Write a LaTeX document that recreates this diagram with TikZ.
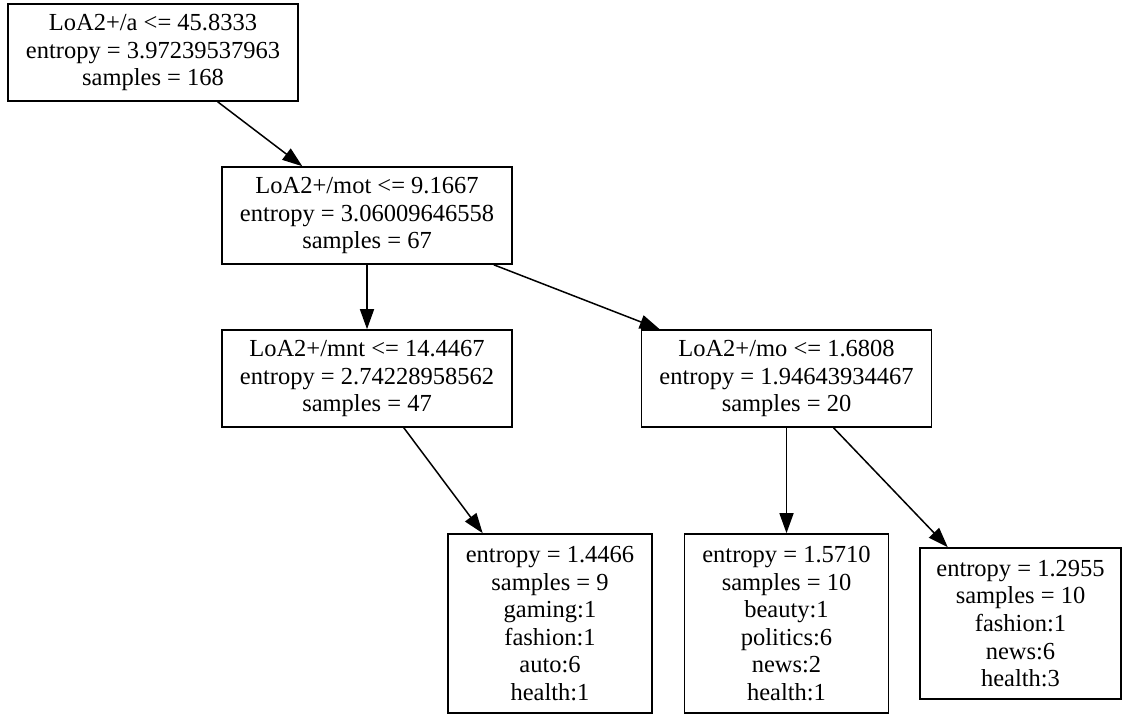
\documentclass[tikz,border=0pt]{standalone}
\usepackage{fontspec}
\setmainfont{Liberation Serif}
\usetikzlibrary{arrows.meta}
\tikzset{
  box/.style={draw=black, line width=1.6pt, rectangle, inner sep=0pt, align=center,
    font=\fontsize{24.5}{27.6}\selectfont},
  dec/.style={box, minimum width=290pt, minimum height=97pt},
  leafbox/.style={box, minimum width=204pt, minimum height=179pt},
  conn/.style={line width=1.5pt, -{Triangle[length=20pt,width=14pt]}, shorten >=0pt}
}
\begin{document}
\begin{tikzpicture}[x=1pt,y=-1pt]
\useasboundingbox[fill=white] (0,0) rectangle (1126,715);
\node[dec] (root) at (153,52.5) {LoA2+/a <= 45.8333\\entropy = 3.97239537963\\samples = 168};
\node[dec] (n2) at (367,215.5) {LoA2+/mot <= 9.1667\\entropy = 3.06009646558\\samples = 67};
\node[dec] (n3) at (367,378.5) {LoA2+/mnt <= 14.4467\\entropy = 2.74228958562\\samples = 47};
\node[dec] (n4) at (786.5,378.5) {LoA2+/mo <= 1.6808\\entropy = 1.94643934467\\samples = 20};
\node[leafbox] (l1) at (550,623.5) {entropy = 1.4466\\samples = 9\\gaming:1\\fashion:1\\auto:6\\health:1};
\node[leafbox] (l2) at (786.5,623.5) {entropy = 1.5710\\samples = 10\\beauty:1\\politics:6\\news:2\\health:1};
\node[leafbox, minimum width=201pt, minimum height=151pt] (l3) at (1020.5,623.5) {entropy = 1.2955\\samples = 10\\fashion:1\\news:6\\health:3};
\draw[conn] (root) -- (n2);
\draw[conn] (n2) -- (n3);
\draw[conn] (n2) -- (n4);
\draw[conn] (n3) -- (l1);
\draw[conn] (n4) -- (l2);
\draw[conn] (n4) -- (l3);
\end{tikzpicture}
\end{document}
